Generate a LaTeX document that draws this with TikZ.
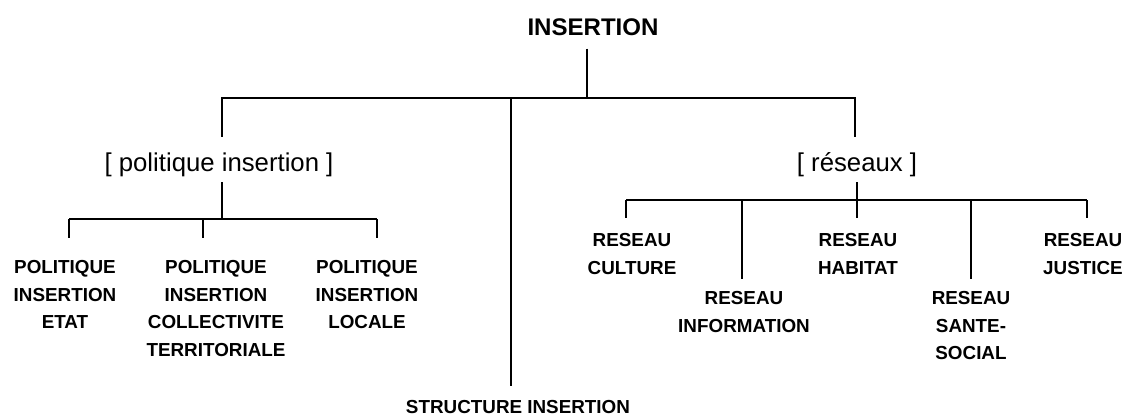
\documentclass[tikz,border=0pt]{standalone}
\usepackage{fontspec}
\setmainfont{Liberation Sans}
\newlength\px
\setlength\px{0.025cm}

\begin{document}
\begin{tikzpicture}[x=0.025cm, y=-0.025cm,
  line/.style={line width=1.7pt},
  ttl/.style={font=\bfseries\fontsize{17.1}{20}\selectfont, anchor=north, inner sep=0pt},
  cat/.style={font=\fontsize{18.3}{22}\selectfont, inner sep=0pt},
  lbl/.style={font=\bfseries\fontsize{13.4}{19.6}\selectfont, align=center, anchor=north, inner sep=0pt}]
\useasboundingbox (0,0) rectangle (1128,416);
% top level
\node[ttl] (insertion) at (593,18) {INSERTION};
\node[cat] (politique) at (219,165) {[ politique insertion ]};
\node[cat] (reseaux) at (857,165) {[ réseaux ]};
\node[lbl] (structure) at (518,400) {STRUCTURE INSERTION};
\coordinate (trunk) at (587,98);
\coordinate (mid) at (511,98);
\draw[line, shorten <=13\px] (insertion.south -| trunk) -- (trunk);
\draw[line, shorten <=16\px, shorten >=16\px] (politique.north -| 222,0) |- (trunk) -| (reseaux.north -| 855,0);
\draw[line, shorten >=14\px] (mid) -- (mid |- structure.north);
% left: politique insertion
\node[lbl] (etat) at (65,260) {POLITIQUE\\INSERTION\\ETAT};
\node[lbl] (collectivite) at (216,260) {POLITIQUE\\INSERTION\\COLLECTIVITE\\TERRITORIALE};
\node[lbl] (locale) at (367,260) {POLITIQUE\\INSERTION\\LOCALE};
\coordinate (lbar) at (222,219);
\coordinate (l1) at (69,219);
\coordinate (l2) at (203,219);
\coordinate (l3) at (377,219);
\draw[line, shorten <=5\px] (politique.south -| lbar) -- (lbar);
\draw[line] (l1) -- (l3);
\foreach \c/\n in {l1/etat, l2/collectivite, l3/locale}
  \draw[line, shorten >=22\px] (\c) -- (\c |- \n.north);
% right: reseaux
\node[lbl] (culture) at (632,233) {RESEAU\\CULTURE};
\node[lbl] (information) at (744,291) {RESEAU\\INFORMATION};
\node[lbl] (habitat) at (858,233) {RESEAU\\HABITAT};
\node[lbl] (sante) at (971,291) {RESEAU\\SANTE-\\SOCIAL};
\node[lbl] (justice) at (1083,233) {RESEAU\\JUSTICE};
\coordinate (rbar) at (857,200);
\coordinate (r1) at (626,200);
\coordinate (r2) at (742,200);
\coordinate (r3) at (857,200);
\coordinate (r4) at (971,200);
\coordinate (r5) at (1087,200);
\draw[line, shorten <=5\px] (reseaux.south -| rbar) -- (rbar);
\draw[line] (r1) -- (r5);
\foreach \c/\n in {r1/culture, r3/habitat, r5/justice}
  \draw[line, shorten >=15\px] (\c) -- (\c |- \n.north);
\foreach \c/\n in {r2/information, r4/sante}
  \draw[line, shorten >=12\px] (\c) -- (\c |- \n.north);
\end{tikzpicture}
\end{document}
